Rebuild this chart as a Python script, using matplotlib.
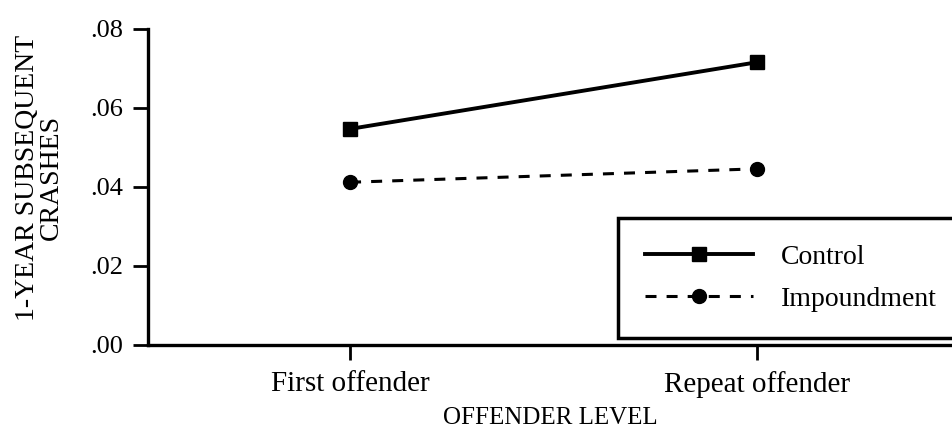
import matplotlib.pyplot as plt

# offender level categories and mean 1-year crash rates
levels = ['First offender', 'Repeat offender']
control = [0.0547, 0.0716]
impoundment = [0.0412, 0.0446]
yticks = [0.00, 0.02, 0.04, 0.06, 0.08]
ytick_labels = ['.00', '.02', '.04', '.06', '.08']

plt.rcParams['font.family'] = 'Liberation Serif'

fig = plt.figure(figsize=(9.53, 4.32), dpi=100)
ax = fig.add_axes([0.1553, 0.2014, 0.8447, 0.7315])

x = list(range(len(levels)))
ax.plot(x, control, '-', color='black', lw=2.8, marker='s', ms=10, label='Control')
ax.plot(x, impoundment, '--', color='black', lw=2.2, marker='o', ms=10,
        dashes=(3.6, 3.3), label='Impoundment')

ax.set_xlim(-0.496, 1.48)
ax.set_ylim(0, 0.08)
ax.set_xticks(x)
ax.set_xticklabels(levels, fontsize=21)
ax.set_yticks(yticks)
ax.set_yticklabels(ytick_labels, fontsize=19)
ax.tick_params(direction='out', length=11, width=2, color='black')
ax.tick_params(axis='x', pad=8)
ax.tick_params(axis='y', pad=7)

for side in ['top', 'right']:
    ax.spines[side].set_visible(False)
for side in ['left', 'bottom']:
    ax.spines[side].set_linewidth(2.4)

ax.set_xlabel('OFFENDER LEVEL', fontsize=18, labelpad=6)
ax.set_ylabel('1-YEAR SUBSEQUENT\nCRASHES', fontsize=20, linespacing=0.9)
ax.yaxis.set_label_coords(-0.105, 0.53)

leg = ax.legend(loc='lower left', bbox_to_anchor=(0.584, 0.022, 0.45, 0.38),
                mode='expand', fontsize=20, handlelength=3.9, handletextpad=1.0,
                labelspacing=0.6, borderpad=0.95, numpoints=1, fancybox=False,
                framealpha=1, edgecolor='black', borderaxespad=0)
leg.get_frame().set_linewidth(2.5)

fig.savefig('out.png', dpi=100)
